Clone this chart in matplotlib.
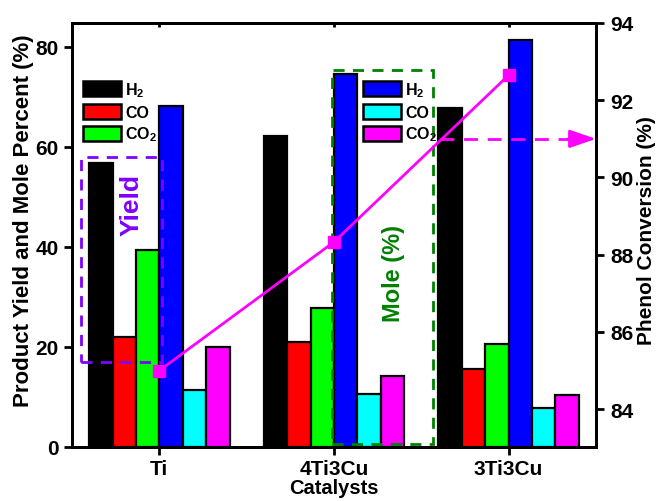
import numpy as np
import matplotlib
matplotlib.use("Agg")
import matplotlib.pyplot as plt
from matplotlib.patches import Rectangle, Patch

plt.rcParams['font.family'] = ['Liberation Sans', 'DejaVu Sans']
plt.rcParams['font.weight'] = 'bold'
plt.rcParams['mathtext.fontset'] = 'custom'
plt.rcParams['mathtext.rm'] = 'Liberation Sans:bold'
plt.rcParams['mathtext.bf'] = 'Liberation Sans:bold'

catalysts = ['Ti', '4Ti3Cu', '3Ti3Cu']
yield_h2 = [56.9, 62.3, 67.8]
yield_co = [22.1, 21.1, 15.6]
yield_co2 = [39.5, 27.9, 20.6]
mole_h2 = [68.3, 74.7, 81.4]
mole_co = [11.5, 10.7, 7.9]
mole_co2 = [20.1, 14.3, 10.5]
conversion = [85.0, 88.33, 92.65]

series = [yield_h2, yield_co, yield_co2, mole_h2, mole_co, mole_co2]
colours = ['#000000', '#ff0000', '#00ff00', '#0000ff', '#00ffff', '#ff00ff']
labels = [r'H$_\mathbf{2}$', 'CO', r'CO$_\mathbf{2}$'] * 2

fig = plt.figure(figsize=(6.58, 5.02), dpi=100)
ax = fig.add_axes([72/658, 54/502, 524/658, 424/502])
x = np.arange(len(catalysts))
w = 0.134

for i, (vals, c) in enumerate(zip(series, colours)):
  ax.bar(x + (i - 2.5) * w, vals, w, color=c, edgecolor='black', linewidth=1.6, zorder=2)

ax.set_xlim(-0.5, 2.5)
ax.set_ylim(0, 84.8)
ax.set_yticks([0, 20, 40, 60, 80])
ax.set_xticks(x)
ax.set_xticklabels(catalysts)
ax.tick_params(axis='both', labelsize=15, width=2, length=6, direction='out')
ax.tick_params(axis='x', pad=3)
for s in ax.spines.values():
  s.set_linewidth(2)
ax.set_xlabel('Catalysts', fontsize=14.5, fontweight='bold', labelpad=-0.5)
ax.set_ylabel('Product Yield and Mole Percent (%)', fontsize=16, fontweight='bold', labelpad=1, y=0.535)

top = ax.secondary_xaxis('top')
top.set_xticks(x)
top.tick_params(direction='in', length=3, width=2, labeltop=False)
top.spines['top'].set_linewidth(2)

# yield box
ax.add_patch(Rectangle((-0.448, 17.0), 0.462, 41.0, fill=False, edgecolor='#8000ff',
                       linestyle=(0, (4, 3)), linewidth=2, zorder=4))
ax.text(-0.156, 48.6, 'Yield', color='#8000ff', fontsize=19, fontweight='bold',
        rotation=90, ha='center', va='center', zorder=5)

# mole box
ax.add_patch(Rectangle((0.989, 0.6), 0.576, 74.8, fill=False, edgecolor='#008000',
                       linestyle=(0, (4, 3)), linewidth=2, zorder=4))
ax.text(1.338, 34.8, 'Mole (%)', color='#008000', fontsize=17, fontweight='bold',
        rotation=90, ha='center', va='center', zorder=5)

legkw = dict(loc='upper left', frameon=False, fontsize=11.5, handlelength=2.4, handleheight=1.1,
             labelspacing=0.3, handletextpad=0.25, borderpad=0, borderaxespad=0)
leg1 = ax.legend(handles=[Patch(facecolor=c, edgecolor='black', linewidth=1.8) for c in colours[:3]],
                 labels=labels[:3], bbox_to_anchor=(0.021, 0.865), **legkw)
ax.add_artist(leg1)
ax.legend(handles=[Patch(facecolor=c, edgecolor='black', linewidth=1.8) for c in colours[3:]],
          labels=labels[3:], bbox_to_anchor=(0.555, 0.865), **legkw)

ax2 = ax.twinx()
ax2.set_ylim(83.02, 94)
ax2.set_yticks([84, 86, 88, 90, 92, 94])
ax2.plot(x, conversion, color='#ff00ff', linewidth=2, marker='s', markersize=8.5, zorder=6)
ax2.tick_params(axis='y', labelsize=15, width=2, length=6, direction='out', pad=4)
ax2.set_ylabel('Phenol Conversion (%)', fontsize=15, fontweight='bold', labelpad=3, y=0.512)
for s in ax2.spines.values():
  s.set_linewidth(2)

# dashed arrow to right axis
ax2.plot([1.607, 2.36], [91.0, 91.0], color='#ff00ff', linestyle=(0, (5, 3.5)), linewidth=2, zorder=6)
ax2.annotate('', xy=(2.5, 91.0), xytext=(2.34, 91.0),
             arrowprops=dict(arrowstyle='-|>,head_length=1.6,head_width=0.55', color='#ff00ff',
                             linewidth=2, shrinkA=0, shrinkB=0), zorder=6)

fig.savefig('out.png', dpi=100)
